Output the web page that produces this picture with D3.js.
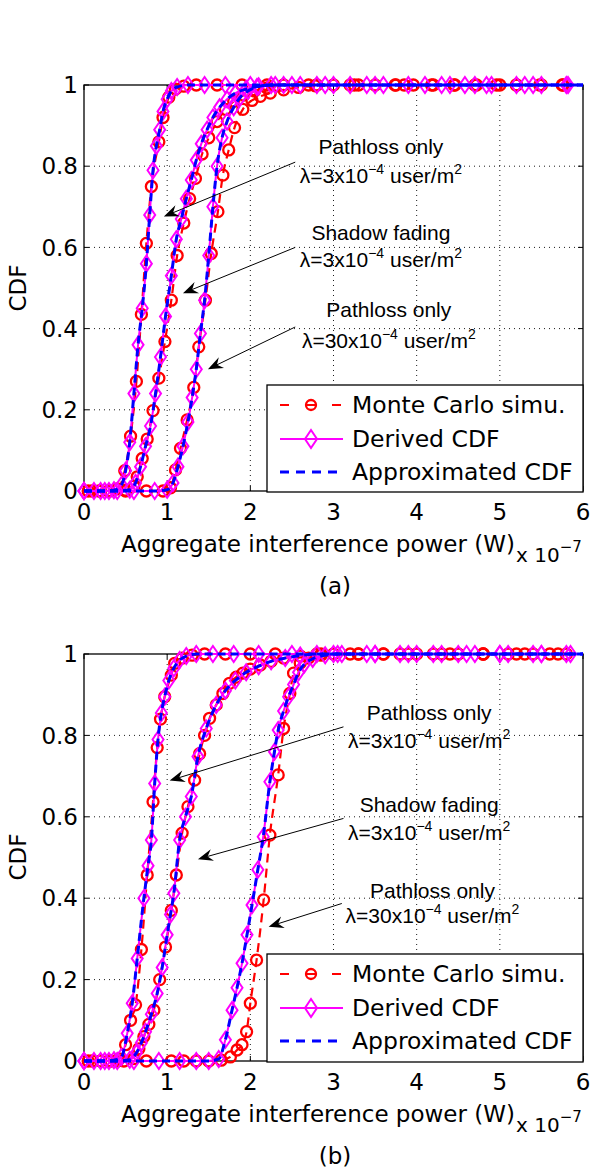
<!DOCTYPE html>
<html>
<head>
<meta charset="utf-8">
<script src="https://cdn.jsdelivr.net/npm/d3@7"></script>
<style>
body { margin: 0; background: #fff; }
text { font-family: "DejaVu Sans", "Liberation Sans", Arial, sans-serif; fill: #000; }
.note { font-family: "Liberation Sans", Arial, sans-serif; }
</style>
</head>
<body>
<svg id="fig"></svg>
<script>
const xTicks = [0, 1, 2, 3, 4, 5, 6];
const yTicks = [0, 0.2, 0.4, 0.6, 0.8, 1];
const yTickLabels = ["0", "0.2", "0.4", "0.6", "0.8", "1"];
const legendNames = ["Monte Carlo simu.", "Derived CDF", "Approximated CDF"];

// panel (a): [x (1e-7 W), CDF]
const aMcA = [[0.05,0],[0.18,0],[0.3,0],[0.4,0.005],[0.49,0.05],[0.56,0.135],[0.63,0.27],[0.69,0.435],[0.75,0.61],[0.81,0.75],[0.9,0.86],[0.95,0.92],[1.02,0.97],[1.1,0.99],[1.2,0.997],[1.35,1],[1.6,1],[1.9,1],[2.2,1],[2.7,1],[3.2,1],[3.75,1],[4.2,1],[4.7,1],[5.2,1],[5.75,1],[6,1]];
const aDerA = [[0,0],[0.12,0],[0.25,0],[0.36,0.002],[0.45,0.015],[0.5,0.05],[0.55,0.12],[0.6,0.24],[0.65,0.36],[0.7,0.45],[0.75,0.56],[0.79,0.68],[0.83,0.79],[0.87,0.85],[0.91,0.89],[0.95,0.935],[1.0,0.965],[1.05,0.985],[1.12,0.995],[1.25,1],[1.45,1],[1.7,1],[2.0,1],[2.4,1],[2.9,1],[3.5,1],[4.1,1],[4.7,1],[5.3,1],[5.8,1],[6,1]];
const aMcB = [[0.1,0],[0.3,0],[0.5,0.002],[0.6,0.012],[0.64,0.035],[0.7,0.08],[0.76,0.128],[0.83,0.198],[0.9,0.278],[0.973,0.368],[1.05,0.47],[1.12,0.58],[1.2,0.66],[1.27,0.72],[1.34,0.77],[1.42,0.83],[1.5,0.87],[1.6,0.91],[1.7,0.94],[1.8,0.96],[1.92,0.975],[2.05,0.985],[2.2,0.993],[2.4,1],[2.8,1],[3.3,1],[3.85,1],[4.45,1],[5.0,1],[5.5,1],[6,1]];
const aDerB = [[0,0],[0.2,0],[0.4,0],[0.55,0.003],[0.62,0.02],[0.68,0.06],[0.74,0.11],[0.8,0.16],[0.86,0.24],[0.92,0.33],[0.98,0.43],[1.05,0.53],[1.11,0.62],[1.17,0.67],[1.23,0.72],[1.29,0.766],[1.35,0.815],[1.41,0.855],[1.48,0.89],[1.55,0.92],[1.63,0.945],[1.72,0.965],[1.82,0.98],[1.95,0.99],[2.1,0.997],[2.3,1],[2.6,1],[3.0,1],[3.4,1],[3.9,1],[4.4,1],[4.9,1],[5.4,1],[6,1]];
const aMcC = [[0.2,0],[0.5,0],[0.75,0],[0.95,0],[1.04,0.008],[1.1,0.052],[1.16,0.105],[1.24,0.175],[1.32,0.255],[1.38,0.355],[1.46,0.47],[1.53,0.585],[1.61,0.688],[1.67,0.778],[1.74,0.84],[1.81,0.895],[1.91,0.94],[2.02,0.962],[2.12,0.972],[2.24,0.98],[2.4,0.988],[2.58,0.994],[2.78,0.998],[3.0,1],[3.25,1],[3.5,1],[3.74,1],[3.96,1],[4.18,1],[4.46,1],[4.72,1],[4.96,1],[5.2,1],[5.48,1],[5.76,1],[6,1]];
const aDerC = [[0,0],[0.3,0],[0.6,0],[0.85,0],[1.0,0.003],[1.07,0.02],[1.13,0.06],[1.19,0.11],[1.25,0.17],[1.3,0.23],[1.35,0.3],[1.4,0.388],[1.45,0.47],[1.5,0.58],[1.55,0.7],[1.6,0.8],[1.66,0.87],[1.72,0.91],[1.8,0.945],[1.88,0.97],[1.97,0.985],[2.08,0.995],[2.25,1],[2.5,1],[2.8,1],[3.2,1],[3.6,1],[4.3,1],[4.58,1],[4.84,1],[5.2,1],[5.5,1],[5.82,1],[6,1]];

// panel (b)
const bMcA = [[0.05,0],[0.2,0],[0.32,0],[0.42,0.005],[0.5,0.04],[0.56,0.1],[0.62,0.138],[0.69,0.274],[0.76,0.457],[0.83,0.637],[0.88,0.77],[0.92,0.84],[0.97,0.895],[1.05,0.948],[1.09,0.977],[1.18,0.99],[1.3,0.997],[1.45,1],[1.7,1],[2.0,1],[2.3,1],[2.8,1],[3.3,1],[3.8,1],[4.3,1],[4.8,1],[5.3,1],[5.8,1],[6,1]];
const bDerA = [[0,0],[0.12,0],[0.25,0],[0.36,0.002],[0.45,0.01],[0.52,0.068],[0.58,0.142],[0.64,0.252],[0.72,0.4],[0.77,0.48],[0.81,0.543],[0.85,0.682],[0.89,0.79],[0.93,0.855],[0.97,0.895],[1.02,0.935],[1.08,0.965],[1.15,0.985],[1.23,0.995],[1.35,1],[1.55,1],[1.8,1],[2.1,1],[2.5,1],[3.0,1],[3.5,1],[4.0,1],[4.5,1],[5.0,1],[5.5,1],[6,1]];
const bMcB = [[0.1,0],[0.3,0],[0.48,0],[0.6,0.006],[0.66,0.03],[0.72,0.06],[0.78,0.09],[0.84,0.125],[0.91,0.2],[0.98,0.28],[1.05,0.37],[1.11,0.457],[1.18,0.56],[1.25,0.625],[1.33,0.69],[1.39,0.755],[1.45,0.8],[1.51,0.842],[1.59,0.875],[1.67,0.903],[1.75,0.928],[1.83,0.943],[1.91,0.953],[2.0,0.963],[2.12,0.973],[2.25,0.982],[2.4,0.99],[2.6,0.995],[2.85,1],[3.2,1],[3.6,1],[4.0,1],[4.4,1],[4.8,1],[5.2,1],[5.6,1],[6,1]];
const bDerB = [[0,0],[0.2,0],[0.4,0],[0.55,0.003],[0.63,0.02],[0.69,0.045],[0.74,0.072],[0.81,0.115],[0.88,0.166],[0.94,0.23],[1.0,0.31],[1.04,0.36],[1.08,0.412],[1.15,0.543],[1.22,0.6],[1.29,0.65],[1.37,0.748],[1.47,0.817],[1.59,0.875],[1.7,0.91],[1.82,0.935],[1.95,0.955],[2.1,0.97],[2.25,0.982],[2.42,0.99],[2.6,0.996],[2.8,1],[3.1,1],[3.5,1],[3.9,1],[4.3,1],[4.7,1],[5.1,1],[5.5,1],[5.85,1],[6,1]];
const bMcC = [[0.4,0],[0.75,0],[1.05,0],[1.2,0],[1.35,0],[1.5,0],[1.65,0.002],[1.76,0.01],[1.84,0.027],[1.9,0.04],[1.955,0.072],[2.0,0.142],[2.075,0.248],[2.16,0.396],[2.235,0.555],[2.335,0.703],[2.4,0.817],[2.475,0.903],[2.52,0.953],[2.6,0.978],[2.7,0.99],[2.85,0.997],[3.0,1],[3.3,1],[3.6,1],[3.9,1],[4.2,1],[4.5,1],[4.8,1],[5.1,1],[5.4,1],[5.7,1],[6,1]];
const bDerC = [[0,0],[0.3,0],[0.6,0],[0.9,0],[1.15,0],[1.35,0],[1.5,0],[1.62,0.005],[1.7,0.052],[1.78,0.125],[1.84,0.18],[1.9,0.24],[1.96,0.31],[2.02,0.383],[2.09,0.47],[2.155,0.551],[2.235,0.686],[2.29,0.76],[2.335,0.813],[2.4,0.86],[2.46,0.895],[2.52,0.925],[2.58,0.955],[2.65,0.975],[2.75,0.988],[2.9,0.997],[3.05,1],[3.4,1],[3.8,1],[4.2,1],[4.6,1],[5.0,1],[5.4,1],[5.8,1],[6,1]];

// annotation text [x, y line1, y line2, line1, density base]
const aNotes = [[3.57, 0.83, 0.759, "Pathloss only", "3"], [3.57, 0.618, 0.552, "Shadow fading", "3"], [3.665, 0.4286, 0.352, "Pathloss only", "30"]];
const bNotes = [[4.15, 0.838, 0.769, "Pathloss only", "3"], [4.15, 0.612, 0.543, "Shadow fading", "3"], [4.19, 0.40, 0.339, "Pathloss only", "30"]];
// arrows [x0, y0, x1 (tip), y1 (tip)]
const aArrows = [[2.54, 0.81, 0.96, 0.676], [2.54, 0.60, 1.19, 0.487], [2.54, 0.404, 1.49, 0.30]];
const bArrows = [[3.12, 0.821, 1.03, 0.689], [3.12, 0.596, 1.37, 0.496], [3.10, 0.387, 2.22, 0.33]];

const W = 590, H = 1174;
const left = 84, right = 583;
const svg = d3.select("#fig").attr("width", W).attr("height", H);
const x = d3.scaleLinear().domain([0, 6]).range([left, right]);

function diamond(w, h) {
  return "M0," + (-h) + "L" + w + ",0L0," + h + "L" + (-w) + ",0Z";
}

function panel(top, bottom, mc, der, notes, arrows, letter) {
  const y = d3.scaleLinear().domain([0, 1]).range([bottom, top]);
  const g = svg.append("g");

  // grid
  g.selectAll(".gx").data(xTicks.slice(1, -1)).enter().append("line")
    .attr("x1", d => x(d)).attr("x2", d => x(d)).attr("y1", top).attr("y2", bottom)
    .attr("stroke", "#000").attr("stroke-width", 0.9).attr("stroke-dasharray", "1,4");
  g.selectAll(".gy").data(yTicks.slice(1, -1)).enter().append("line")
    .attr("y1", d => y(d)).attr("y2", d => y(d)).attr("x1", left).attr("x2", right)
    .attr("stroke", "#000").attr("stroke-width", 0.9).attr("stroke-dasharray", "1,4");

  // box + inward ticks
  g.append("rect").attr("x", left).attr("y", top).attr("width", right - left).attr("height", bottom - top)
    .attr("fill", "none").attr("stroke", "#000").attr("stroke-width", 1.3);
  xTicks.forEach(t => {
    g.append("line").attr("x1", x(t)).attr("x2", x(t)).attr("y1", bottom).attr("y2", bottom - 5).attr("stroke", "#000");
    g.append("line").attr("x1", x(t)).attr("x2", x(t)).attr("y1", top).attr("y2", top + 5).attr("stroke", "#000");
  });
  yTicks.forEach(t => {
    g.append("line").attr("x1", left).attr("x2", left + 5).attr("y1", y(t)).attr("y2", y(t)).attr("stroke", "#000");
    g.append("line").attr("x1", right).attr("x2", right - 5).attr("y1", y(t)).attr("y2", y(t)).attr("stroke", "#000");
  });

  // tick labels
  g.selectAll(".xt").data(xTicks).enter().append("text")
    .attr("x", d => x(d)).attr("y", bottom + 29).attr("text-anchor", "middle")
    .attr("font-size", 23).text(d => d);
  g.selectAll(".yt").data(yTicks).enter().append("text")
    .attr("x", 78).attr("y", d => y(d)).attr("dy", "0.36em").attr("text-anchor", "end")
    .attr("font-size", 23).text((d, i) => yTickLabels[i]);

  // axis labels
  g.append("text").attr("transform", "translate(26," + (top + 203) + ") rotate(-90)")
    .attr("text-anchor", "middle").attr("font-size", 23).text("CDF");
  g.append("text").attr("x", 318).attr("y", bottom + 61).attr("text-anchor", "middle")
    .attr("font-size", 23).text("Aggregate interference power (W)");
  const ex = g.append("text").attr("x", 516).attr("y", bottom + 71).attr("font-size", 20);
  ex.append("tspan").text("x 10");
  ex.append("tspan").attr("dy", -10).attr("font-size", 15).text("\u22127");
  g.append("text").attr("x", 335).attr("y", bottom + 103).attr("text-anchor", "middle")
    .attr("font-size", 23).text(letter);

  const line = d3.line().x(d => x(d[0])).y(d => y(d[1])).curve(d3.curveMonotoneX);
  const marked = s => s.filter(d => d[0] < 5.95);

  // Monte Carlo
  mc.forEach(s => {
    g.append("path").attr("d", line(s)).attr("fill", "none").attr("stroke", "#ff0000")
      .attr("stroke-width", 2.2).attr("stroke-dasharray", "9,6");
    g.selectAll(null).data(marked(s)).enter().append("circle")
      .attr("cx", d => x(d[0])).attr("cy", d => y(d[1])).attr("r", 5.5)
      .attr("fill", "none").attr("stroke", "#ff0000").attr("stroke-width", 2.3);
  });
  // derived
  der.forEach(s => {
    g.append("path").attr("d", line(s)).attr("fill", "none").attr("stroke", "#ff00ff").attr("stroke-width", 2);
    g.selectAll(null).data(marked(s)).enter().append("path")
      .attr("transform", d => "translate(" + x(d[0]) + "," + y(d[1]) + ")")
      .attr("d", diamond(5.5, 8)).attr("fill", "none").attr("stroke", "#ff00ff").attr("stroke-width", 2);
  });
  // approximated
  der.forEach(s => {
    g.append("path").attr("d", line(s)).attr("fill", "none").attr("stroke", "#0000ff")
      .attr("stroke-width", 3).attr("stroke-dasharray", "8,5");
  });

  // arrows
  arrows.forEach(a => {
    const x0 = x(a[0]), y0 = y(a[1]), x1 = x(a[2]), y1 = y(a[3]);
    const ang = Math.atan2(y1 - y0, x1 - x0);
    const L = 15, Wd = 6, N = 10;
    const ca = Math.cos(ang), sa = Math.sin(ang);
    const bx = x1 - L * ca, by = y1 - L * sa;
    const nx = x1 - N * ca, ny = y1 - N * sa;
    g.append("line").attr("x1", x0).attr("y1", y0).attr("x2", nx).attr("y2", ny)
      .attr("stroke", "#000").attr("stroke-width", 1);
    g.append("path").attr("d", "M" + x1 + "," + y1 +
        "L" + (bx - Wd * sa) + "," + (by + Wd * ca) +
        "L" + nx + "," + ny +
        "L" + (bx + Wd * sa) + "," + (by - Wd * ca) + "Z")
      .attr("fill", "#000");
  });

  // notes
  notes.forEach(n => {
    g.append("text").attr("class", "note").attr("x", x(n[0])).attr("y", y(n[1]))
      .attr("text-anchor", "middle").attr("font-size", 21).text(n[3]);
    const t = g.append("text").attr("class", "note").attr("x", x(n[0])).attr("y", y(n[2]))
      .attr("text-anchor", "middle").attr("font-size", 21);
    t.append("tspan").text("\u03bb=" + n[4] + "x10");
    t.append("tspan").attr("dy", -9).attr("font-size", 14).text("\u22124");
    t.append("tspan").attr("dy", 9).text(" user/m");
    t.append("tspan").attr("dy", -9).attr("font-size", 14).text("2");
  });

  // legend
  const ly = top + 300;
  const lg = g.append("g");
  lg.append("rect").attr("x", 267).attr("y", ly).attr("width", right - 267).attr("height", bottom + 1 - ly)
    .attr("fill", "#fff").attr("stroke", "#000").attr("stroke-width", 1.3);
  const rows = [20, 54, 87];
  lg.append("line").attr("x1", 280).attr("x2", 343).attr("y1", ly + rows[0]).attr("y2", ly + rows[0])
    .attr("stroke", "#ff0000").attr("stroke-width", 2.2).attr("stroke-dasharray", "9,17");
  lg.append("circle").attr("cx", 311).attr("cy", ly + rows[0]).attr("r", 5)
    .attr("fill", "none").attr("stroke", "#ff0000").attr("stroke-width", 2.3);
  lg.append("line").attr("x1", 280).attr("x2", 343).attr("y1", ly + rows[1]).attr("y2", ly + rows[1])
    .attr("stroke", "#ff00ff").attr("stroke-width", 2);
  lg.append("path").attr("transform", "translate(311," + (ly + rows[1]) + ")").attr("d", diamond(6, 9))
    .attr("fill", "none").attr("stroke", "#ff00ff").attr("stroke-width", 2);
  lg.append("line").attr("x1", 280).attr("x2", 343).attr("y1", ly + rows[2]).attr("y2", ly + rows[2])
    .attr("stroke", "#0000ff").attr("stroke-width", 3).attr("stroke-dasharray", "9,7");
  lg.selectAll(".lt").data(legendNames).enter().append("text")
    .attr("x", 352).attr("y", (d, i) => ly + rows[i]).attr("dy", "0.36em")
    .attr("font-size", 23.5).text(d => d);
}

panel(85, 491, [aMcA, aMcB, aMcC], [aDerA, aDerB, aDerC], aNotes, aArrows, "(a)");
panel(654, 1061, [bMcA, bMcB, bMcC], [bDerA, bDerB, bDerC], bNotes, bArrows, "(b)");
</script>
</body>
</html>
